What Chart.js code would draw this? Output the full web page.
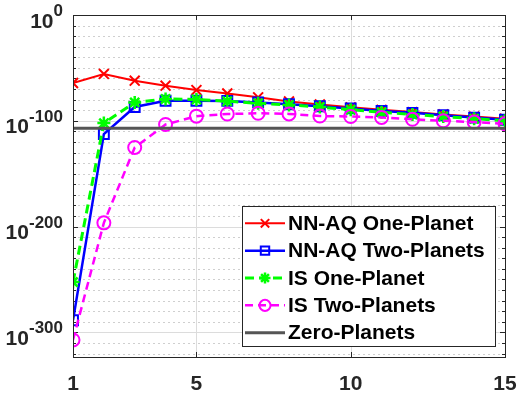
<!DOCTYPE html>
<html><head><meta charset="utf-8">
<script src="https://cdn.jsdelivr.net/npm/chart.js@4"></script>
<style>html,body{margin:0;padding:0;background:#fff}#wrap{width:525px;height:395px}</style>
</head><body><div id="wrap"><canvas id="c" width="525" height="395"></canvas></div>
<script>
// x categories (number of steps)
const steps = [1,2,3,4,5,6,7,8,9,10,11,12,13,14,15];
// series values, stored as log10 of the plotted quantity
const nnAqOnePlanetLog10 = [-64.3,-55.7,-62.1,-66.8,-71.0,-74.2,-77.8,-81.8,-84.6,-87.3,-89.6,-91.8,-94.0,-96.0,-98.0];
const nnAqTwoPlanetsLog10 = [-288.6,-112.6,-87.0,-81.0,-81.0,-81.2,-82.6,-84.4,-86.2,-88.3,-90.8,-92.5,-94.8,-97.0,-99.0];
const isOnePlanetLog10 = [-252.5,-102.2,-82.6,-79.4,-79.8,-81.5,-83.5,-85.0,-87.0,-89.5,-92.0,-94.0,-96.0,-98.0,-100.0];
const isTwoPlanetsLog10 = [-307.2,-196.5,-125.2,-103.5,-95.6,-93.6,-92.9,-93.5,-95.5,-96.0,-96.8,-98.6,-100.0,-101.2,-102.8];
const zeroPlanetsLog10 = [-107.0,-107.0];
const zeroPlanetsSteps = [1,15];
// tick labels
const xTickValues = [1,5,10,15];
const yTickExponents = [0,-100,-200,-300];
const yMinorStep = 10;
const seriesLabels = ['NN-AQ One-Planet','NN-AQ Two-Planets','IS One-Planet','IS Two-Planets','Zero-Planets'];

const FONT = '"Liberation Sans", Arial, sans-serif';
const pts = (xs, ys) => xs.map((x,i)=>({x:x, y:ys[i]}));

const framePlugin = {
  id:'frame',
  beforeDatasetsDraw(chart){
    const {ctx, chartArea:a} = chart;
    const ys = chart.scales.y, xs = chart.scales.x;
    ctx.save();
    // grid lines
    ys.ticks.forEach(t=>{
      if (t.value === 0) return;
      const p = Math.round(ys.getPixelForValue(t.value))+0.5;
      const major = (t.value % 100 === 0);
      ctx.beginPath();
      ctx.setLineDash(major ? [] : [2,3]);
      ctx.strokeStyle = major ? '#dcdcdc' : '#cfcfcf';
      ctx.lineWidth = 1;
      ctx.moveTo(a.left, p); ctx.lineTo(a.right, p); ctx.stroke();
    });
    ctx.setLineDash([]);
    xs.ticks.forEach(t=>{
      if (t.value <= 1 || t.value >= 15) return;
      const p = Math.round(xs.getPixelForValue(t.value))+0.5;
      ctx.beginPath(); ctx.strokeStyle = '#dcdcdc'; ctx.lineWidth = 1;
      ctx.moveTo(p, a.top); ctx.lineTo(p, a.bottom); ctx.stroke();
    });
    // inward ticks
    ctx.strokeStyle = '#262626'; ctx.lineWidth = 1;
    ys.ticks.forEach(t=>{
      const p = Math.round(ys.getPixelForValue(t.value))+0.5;
      const L = (t.value % 100 === 0) ? 5 : 3;
      ctx.beginPath();
      ctx.moveTo(a.left, p); ctx.lineTo(a.left+L, p);
      ctx.moveTo(a.right, p); ctx.lineTo(a.right-L, p);
      ctx.stroke();
    });
    xs.ticks.forEach(t=>{
      const p = Math.round(xs.getPixelForValue(t.value))+0.5;
      ctx.beginPath();
      ctx.moveTo(p, a.bottom); ctx.lineTo(p, a.bottom-5);
      ctx.moveTo(p, a.top); ctx.lineTo(p, a.top+5);
      ctx.stroke();
    });
    ctx.restore();
  },
  afterDatasetsDraw(chart){
    const {ctx, chartArea:a} = chart;
    ctx.save();
    ctx.strokeStyle = '#262626'; ctx.lineWidth = 1;
    ctx.strokeRect(Math.round(a.left)+0.5, Math.round(a.top)+0.5, Math.round(a.right-a.left), Math.round(a.bottom-a.top));
    // tick labels
    ctx.fillStyle = '#262626';
    ctx.textAlign = 'right'; ctx.textBaseline = 'alphabetic';
    const ys = chart.scales.y, xs = chart.scales.x;
    const rightEdge = a.left - 10;
    yTickExponents.forEach(e=>{
      const p = ys.getPixelForValue(e);
      const ex = String(e);
      ctx.font = 'bold 17px ' + FONT;
      const ew = ctx.measureText(ex).width;
      ctx.fillText(ex, rightEdge, p+1);
      ctx.font = 'bold 21px ' + FONT;
      ctx.fillText('10', rightEdge - ew, p+12.5);
    });
    ctx.textAlign = 'center';
    ctx.font = 'bold 21px ' + FONT;
    xTickValues.forEach(v=>{
      ctx.fillText(String(v), xs.getPixelForValue(v), 390);
    });
    // legend box
    const x0 = 242, y0 = 206, w = 253, h = 140;
    ctx.fillStyle = '#fff'; ctx.fillRect(x0, y0, w, h);
    ctx.strokeStyle = '#262626'; ctx.strokeRect(x0+0.5, y0+0.5, w, h);
    chart.data.datasets.forEach((ds,i)=>{
      const cy = y0 + 17.3 + i*27.35;
      ctx.save();
      ctx.beginPath();
      ctx.setLineDash(ds.borderDash || []);
      ctx.strokeStyle = ds.borderColor; ctx.lineWidth = ds.borderWidth;
      ctx.moveTo(x0+3, cy); ctx.lineTo(x0+43, cy); ctx.stroke();
      ctx.setLineDash([]);
      if (ds.pointRadius > 0) {
        ctx.strokeStyle = ds.pointBorderColor; ctx.fillStyle = ds.pointBackgroundColor;
        ctx.lineWidth = ds.pointBorderWidth;
        Chart.helpers.drawPoint(ctx, {pointStyle: ds.pointStyle, rotation:0, radius: ds.pointRadius*0.85, borderWidth: ds.pointBorderWidth}, x0+23, cy);
      }
      ctx.restore();
      ctx.fillStyle = '#000'; ctx.textAlign = 'left'; ctx.textBaseline = 'middle';
      ctx.font = 'bold 21px ' + FONT;
      ctx.fillText(ds.label, x0+46, cy+1);
    });
    ctx.restore();
  }
};

new Chart(document.getElementById('c'), {
  type:'line',
  data:{
    datasets:[
      {label:seriesLabels[0], data:pts(steps,nnAqOnePlanetLog10), borderColor:'#ff0000', borderWidth:2,
       pointStyle:'crossRot', pointRadius:7, pointBorderWidth:2, pointBorderColor:'#ff0000', pointBackgroundColor:'#ff0000', order:4},
      {label:seriesLabels[1], data:pts(steps,nnAqTwoPlanetsLog10), borderColor:'#0000ff', borderWidth:2.5,
       pointStyle:'rect', pointRadius:7, pointBorderWidth:2, pointBorderColor:'#0000ff', pointBackgroundColor:'rgba(0,0,0,0)', order:3},
      {label:seriesLabels[2], data:pts(steps,isOnePlanetLog10), borderColor:'#00ff00', borderWidth:3, borderDash:[9,5],
       pointStyle:'star', pointRadius:6.5, pointBorderWidth:2.5, pointBorderColor:'#00ff00', pointBackgroundColor:'#00ff00', order:2},
      {label:seriesLabels[3], data:pts(steps,isTwoPlanetsLog10), borderColor:'#ff00ff', borderWidth:2.5, borderDash:[8,5],
       pointStyle:'circle', pointRadius:6.5, pointBorderWidth:2, pointBorderColor:'#ff00ff', pointBackgroundColor:'rgba(0,0,0,0)', order:1},
      {label:seriesLabels[4], data:pts(zeroPlanetsSteps,zeroPlanetsLog10), borderColor:'#555555', borderWidth:3,
       pointRadius:0, order:0}
    ]
  },
  options:{
    responsive:false, animation:false, devicePixelRatio:1,
    layout:{padding:{left:73, right:20, top:15, bottom:38}},
    plugins:{legend:{display:false}, tooltip:{enabled:false}},
    elements:{line:{tension:0}},
    scales:{
      x:{type:'linear', min:1, max:15,
         afterBuildTicks: s => { s.ticks = xTickValues.map(v=>({value:v})); },
         ticks:{display:false},
         grid:{display:false, drawTicks:false},
         border:{display:false}},
      y:{type:'linear', min:-323.3, max:0,
         afterBuildTicks: s => { const t=[]; for(let v=0; v>=-320; v-=yMinorStep) t.push({value:v}); s.ticks = t; },
         ticks:{display:false},
         grid:{display:false, drawTicks:false},
         border:{display:false}}
    }
  },
  plugins:[framePlugin]
});
</script>
</body></html>
